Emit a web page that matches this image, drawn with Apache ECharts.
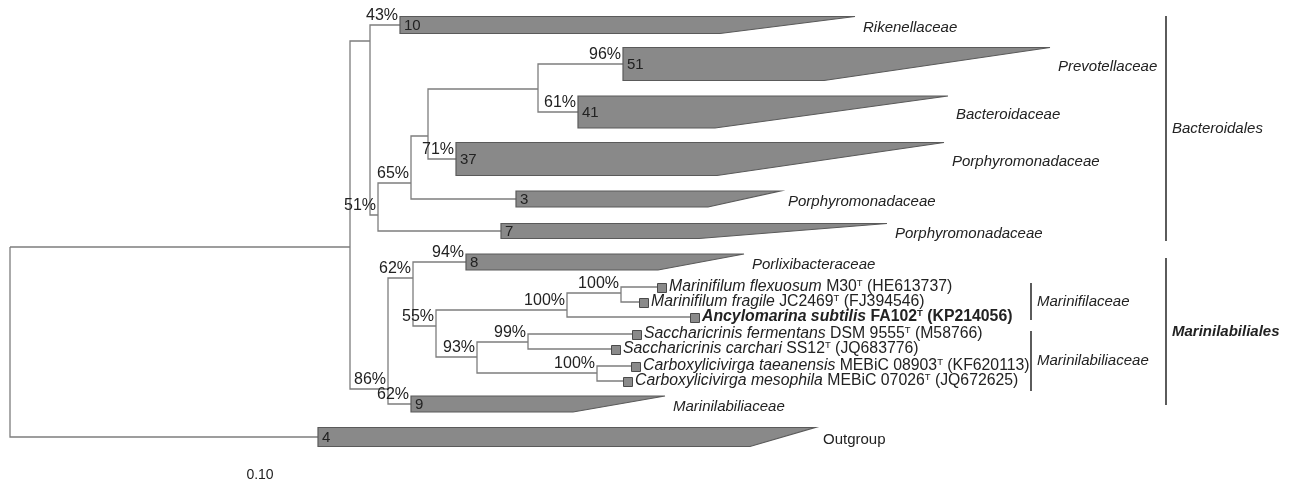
<!DOCTYPE html>
<html>
<head>
<meta charset="utf-8">
<title>Bacteroidales tree</title>
<script src="https://cdn.jsdelivr.net/npm/echarts@6/dist/echarts.min.js"></script>
<style>
html, body { margin: 0; padding: 0; background: #fff; }
#chart { width: 1290px; height: 485px; }
</style>
</head>
<body>
<div id="chart"></div>
<script>
// tree nodes: name, parent, branch length (substitutions/site), row
var nodeNames = ["root", "A", "B", "C", "D", "E", "F", "G", "H", "I", "J", "L", "K", "N", "O",
  "c10", "c51", "c41", "c37", "c3", "c7", "c8", "c9", "c4",
  "flexuosum", "fragile", "subtilis", "fermentans", "carchari", "taeanensis", "mesophila"];
var nodeParents = [null, "root", "A", "B", "C", "D", "E", "A", "G", "H", "I", "J", "I", "K", "K",
  "B", "F", "F", "E", "D", "C", "H", "G", "root",
  "L", "L", "J", "N", "N", "O", "O"];
var branchLengths = [0, 0.170, 0.010, 0.004, 0.0165, 0.0085, 0.055, 0.019, 0.0125, 0.0115, 0.0655, 0.027, 0.0205, 0.0255, 0.060,
  0.015, 0.0425, 0.020, 0.014, 0.0525, 0.0615, 0.0265, 0.0115, 0.154,
  0.018, 0.009, 0.0615, 0.052, 0.0415, 0.017, 0.013];
var nodeRows = [24.7, 24.7, 4.1, 21.5, 18.3, 13.6, 8.9, 38.9, 27.8, 32.6, 31.0, 29.3, 35.7, 34.2, 37.3,
  2.5, 6.4, 11.2, 15.9, 19.9, 23.1, 26.2, 40.4, 43.7,
  28.7, 30.2, 31.7, 33.4, 34.9, 36.6, 38.1];

// collapsed clades
var cladeNodes = ["c10", "c51", "c41", "c37", "c3", "c7", "c8", "c9", "c4"];
var cladeSizes = ["10", "51", "41", "37", "3", "7", "8", "9", "4"];
var cladeNames = ["Rikenellaceae", "Prevotellaceae", "Bacteroidaceae", "Porphyromonadaceae", "Porphyromonadaceae",
  "Porphyromonadaceae", "Porlixibacteraceae", "Marinilabiliaceae", "Outgroup"];
var cladeMinDepth = [0.160, 0.1005, 0.0685, 0.1305, 0.096, 0.099, 0.096, 0.081, 0.216];
var cladeMaxDepth = [0.2275, 0.2135, 0.185, 0.244, 0.132, 0.193, 0.139, 0.127, 0.2485];
var cladeSpan = [1.7, 3.3, 3.2, 3.3, 1.6, 1.5, 1.6, 1.6, 1.9];

// bootstrap support
var supportNodes = ["c10", "C", "D", "c37", "c51", "c41", "G", "H", "c9", "c8", "I", "J", "L", "K", "N", "O"];
var supportValues = [43, 51, 65, 71, 96, 61, 86, 62, 62, 94, 55, 100, 100, 93, 99, 100];

// single strains
var leafNodes = ["flexuosum", "fragile", "subtilis", "fermentans", "carchari", "taeanensis", "mesophila"];
var leafSpecies = ["Marinifilum flexuosum", "Marinifilum fragile", "Ancylomarina subtilis", "Saccharicrinis fermentans",
  "Saccharicrinis carchari", "Carboxylicivirga taeanensis", "Carboxylicivirga mesophila"];
var leafStrains = ["M30", "JC2469", "FA102", "DSM 9555", "SS12", "MEBiC 08903", "MEBiC 07026"];
var leafAccessions = ["HE613737", "FJ394546", "KP214056", "M58766", "JQ683776", "KF620113", "JQ672625"];
var leafBold = [false, false, true, false, false, false, false];

// brackets on the right
var bracketNames = ["Bacteroidales", "Marinilabiliales", "Marinifilaceae", "Marinilabiliaceae"];
var bracketFrom = [1.6, 25.8, 28.3, 33.1];
var bracketTo = [24.1, 40.5, 32.0, 39.1];
var bracketDepth = [0.578, 0.578, 0.5105, 0.5105];
var bracketBold = [false, true, false, false];

// scale
var scaleLength = 0.10;
var scaleStart = 0.075;
var scaleRow = 47.5;

var FONT = "'Liberation Sans', Arial, Helvetica, sans-serif";
var TXT = "#222";

// cumulative depth of every node
var idx = {};
nodeNames.forEach(function (n, i) { idx[n] = i; });
var depthCache = {};
function depthOf(n) {
  if (depthCache[n] !== undefined) return depthCache[n];
  var i = idx[n];
  var p = nodeParents[i];
  var d = p === null ? 0 : depthOf(p) + branchLengths[i];
  depthCache[n] = d;
  return d;
}
function rowOf(n) { return nodeRows[idx[n]]; }

var branchData = [];
nodeNames.forEach(function (n, i) {
  var p = nodeParents[i];
  if (p === null) return;
  branchData.push([depthOf(p), depthOf(n), rowOf(n), rowOf(p)]);
});

var cladeData = cladeNodes.map(function (n, i) {
  var d = depthOf(n);
  return [d, d + cladeMinDepth[i], d + cladeMaxDepth[i], rowOf(n), cladeSpan[i], i];
});

var supportData = supportNodes.map(function (n, i) {
  return [depthOf(n), rowOf(n), supportValues[i]];
});

var leafData = leafNodes.map(function (n, i) {
  return [depthOf(n), rowOf(n), i];
});

var bracketData = bracketNames.map(function (n, i) {
  return [bracketDepth[i], bracketFrom[i], bracketTo[i], i];
});

var myChart = echarts.init(document.getElementById("chart"));
myChart.setOption({
  animation: false,
  grid: { left: 10, right: 0, top: 0, bottom: 0 },
  xAxis: { type: "value", min: 0, max: 0.64, show: false },
  yAxis: { type: "value", inverse: true, min: 0, max: 48.5, show: false },
  series: [
    {
      // branches
      type: "custom",
      data: branchData,
      renderItem: function (params, api) {
        var p0 = api.coord([api.value(0), api.value(3)]);
        var p1 = api.coord([api.value(0), api.value(2)]);
        var p2 = api.coord([api.value(1), api.value(2)]);
        return {
          type: "polyline",
          shape: { points: [p0, p1, p2] },
          style: { stroke: "#7d7d7d", lineWidth: 1.3, fill: null }
        };
      }
    },
    {
      // collapsed clades
      type: "custom",
      data: cladeData,
      renderItem: function (params, api) {
        var i = api.value(5);
        var half = api.value(4) / 2;
        var row = api.value(3);
        var a = api.coord([api.value(0), row - half]);
        var b = api.coord([api.value(2), row - half]);
        var c = api.coord([api.value(1), row + half]);
        var d = api.coord([api.value(0), row + half]);
        var mid = api.coord([api.value(0), row]);
        var tip = api.coord([api.value(2), row]);
        var name = cladeNames[i];
        return {
          type: "group",
          children: [
            {
              type: "polygon",
              shape: { points: [a, b, c, d] },
              style: { fill: "#898989", stroke: "#5a5a5a", lineWidth: 1.2 }
            },
            {
              type: "text",
              x: mid[0] + 4, y: mid[1] + 1,
              style: { text: cladeSizes[i], fill: TXT, fontSize: 15, fontFamily: FONT, align: "left", verticalAlign: "middle" }
            },
            {
              type: "text",
              x: tip[0] + 8, y: tip[1] + 3,
              style: {
                text: name, fill: TXT, fontSize: 15, fontFamily: FONT,
                fontStyle: name === "Outgroup" ? "normal" : "italic",
                align: "left", verticalAlign: "middle"
              }
            }
          ]
        };
      }
    },
    {
      // single strains
      type: "custom",
      data: leafData,
      renderItem: function (params, api) {
        var i = api.value(2);
        var p = api.coord([api.value(0), api.value(1)]);
        var bold = leafBold[i];
        var w = bold ? "bold" : "normal";
        var txt = "{i|" + leafSpecies[i] + "}{n| " + leafStrains[i] + "}{s|T}{n| (" + leafAccessions[i] + ")}";
        return {
          type: "group",
          children: [
            {
              type: "rect",
              shape: { x: Math.round(p[0]) + 0.5, y: Math.round(p[1] - 4.5) + 0.5, width: 9, height: 9 },
              style: { fill: "#8a8a8a", stroke: "#4a4a4a", lineWidth: 1 }
            },
            {
              type: "text",
              x: p[0] + 12, y: p[1],
              style: {
                text: txt, fill: TXT, fontSize: 15.8, fontFamily: FONT, align: "left", verticalAlign: "middle",
                rich: {
                  i: { fontStyle: "italic", fontWeight: w, fontSize: 15.8, fontFamily: FONT, fill: TXT },
                  n: { fontWeight: w, fontSize: 15.8, fontFamily: FONT, fill: TXT },
                  s: { fontWeight: w, fontSize: 9.5, fontFamily: FONT, fill: TXT, verticalAlign: "top", lineHeight: 17 }
                }
              }
            }
          ]
        };
      }
    },
    {
      // bootstrap values
      type: "custom",
      data: supportData,
      renderItem: function (params, api) {
        var p = api.coord([api.value(0), api.value(1)]);
        return {
          type: "text",
          x: p[0] - 2, y: p[1] - 1,
          style: {
            text: api.value(2) + "%", fill: TXT, fontSize: 16, fontFamily: FONT,
            align: "right", verticalAlign: "bottom"
          }
        };
      }
    },
    {
      // brackets
      type: "custom",
      data: bracketData,
      renderItem: function (params, api) {
        var i = api.value(3);
        var top = api.coord([api.value(0), api.value(1)]);
        var bot = api.coord([api.value(0), api.value(2)]);
        return {
          type: "group",
          children: [
            {
              type: "line",
              shape: { x1: top[0], y1: top[1], x2: bot[0], y2: bot[1] },
              style: { stroke: "#333", lineWidth: 1.6 }
            },
            {
              type: "text",
              x: top[0] + 6, y: (top[1] + bot[1]) / 2,
              style: {
                text: bracketNames[i], fill: TXT, fontSize: 15, fontFamily: FONT,
                fontStyle: "italic", fontWeight: bracketBold[i] ? "bold" : "normal",
                align: "left", verticalAlign: "middle"
              }
            }
          ]
        };
      }
    },
    {
      // scale label
      type: "custom",
      data: [[scaleStart, scaleStart + scaleLength, scaleRow]],
      renderItem: function (params, api) {
        var p = api.coord([(api.value(0) + api.value(1)) / 2, api.value(2)]);
        return {
          type: "text",
          x: p[0], y: p[1],
          style: { text: scaleLength.toFixed(2), fill: TXT, fontSize: 14, fontFamily: FONT, align: "center", verticalAlign: "middle" }
        };
      }
    }
  ]
});
</script>
</body>
</html>
